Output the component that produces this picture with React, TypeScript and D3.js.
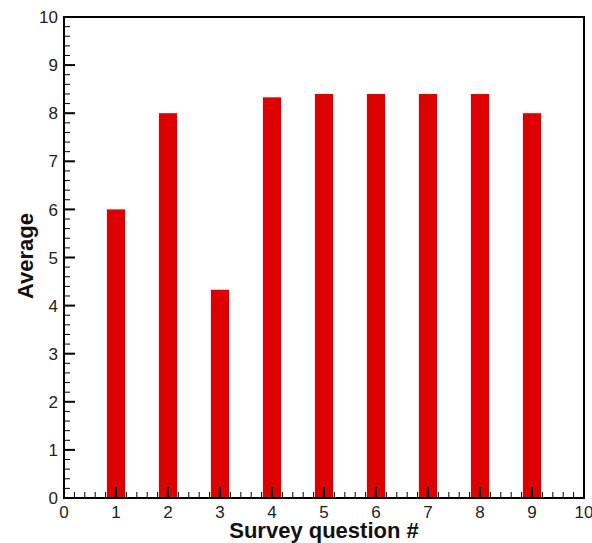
import React from "react";
import * as d3 from "d3";

const categories = [1, 2, 3, 4, 5, 6, 7, 8, 9];
const averages = [6, 8, 4.33, 8.33, 8.4, 8.4, 8.4, 8.4, 8];
const xTicks = [0, 1, 2, 3, 4, 5, 6, 7, 8, 9, 10];
const yTicks = [0, 1, 2, 3, 4, 5, 6, 7, 8, 9, 10];

const W = 592, H = 543;
const L = 64, R = 584, T = 17, B = 498;

export default function App() {
  const x = d3.scaleLinear().domain([0, 10]).range([L, R]);
  const y = d3.scaleLinear().domain([0, 10]).range([B, T]);
  const minor = d3.range(0, 10.0001, 0.2).filter((v) => Math.abs(v - Math.round(v)) > 1e-6);
  const bw = x(0.35) - x(0);
  const font = "Arial, 'Liberation Sans', sans-serif";
  return (
    <svg width={W} height={H} style={{ position: "absolute", left: 0, top: 0 }}>
      <rect width={W} height={H} fill="white" />
      {categories.map((c, i) => (
        <rect key={c} x={x(c) - bw / 2} y={y(averages[i])} width={bw} height={y(0) - y(averages[i])} fill="#dd0000" />
      ))}
      {yTicks.map((t) => (
        <g key={"y" + t}>
          <line x1={L} x2={L + 11} y1={y(t)} y2={y(t)} stroke="black" strokeWidth={2} />
          <text x={L - 6} y={y(t)} dy="0.36em" textAnchor="end" fontFamily={font} fontSize={17} fill="#222">{t}</text>
        </g>
      ))}
      {minor.map((t) => (
        <g key={"m" + t}>
          <line x1={L} x2={L + 6} y1={y(t)} y2={y(t)} stroke="black" strokeWidth={1} />
          <line y1={B} y2={B - 6} x1={x(t)} x2={x(t)} stroke="black" strokeWidth={1} />
        </g>
      ))}
      {xTicks.map((t) => (
        <g key={"x" + t}>
          <line y1={B} y2={B - 11} x1={x(t)} x2={x(t)} stroke="black" strokeWidth={2} />
          <text x={x(t)} y={B + 20} textAnchor="middle" fontFamily={font} fontSize={17} fill="#222">{t}</text>
        </g>
      ))}
      <rect x={L} y={T} width={R - L} height={B - T} fill="none" stroke="black" strokeWidth={2} />
      <text x={(L + R) / 2} y={538} textAnchor="middle" fontFamily={font} fontWeight="bold" fontSize={22} fill="#111">Survey question #</text>
      <text transform={`translate(33,256) rotate(-90)`} textAnchor="middle" fontFamily={font} fontWeight="bold" fontSize={22} fill="#111">Average</text>
    </svg>
  );
}
